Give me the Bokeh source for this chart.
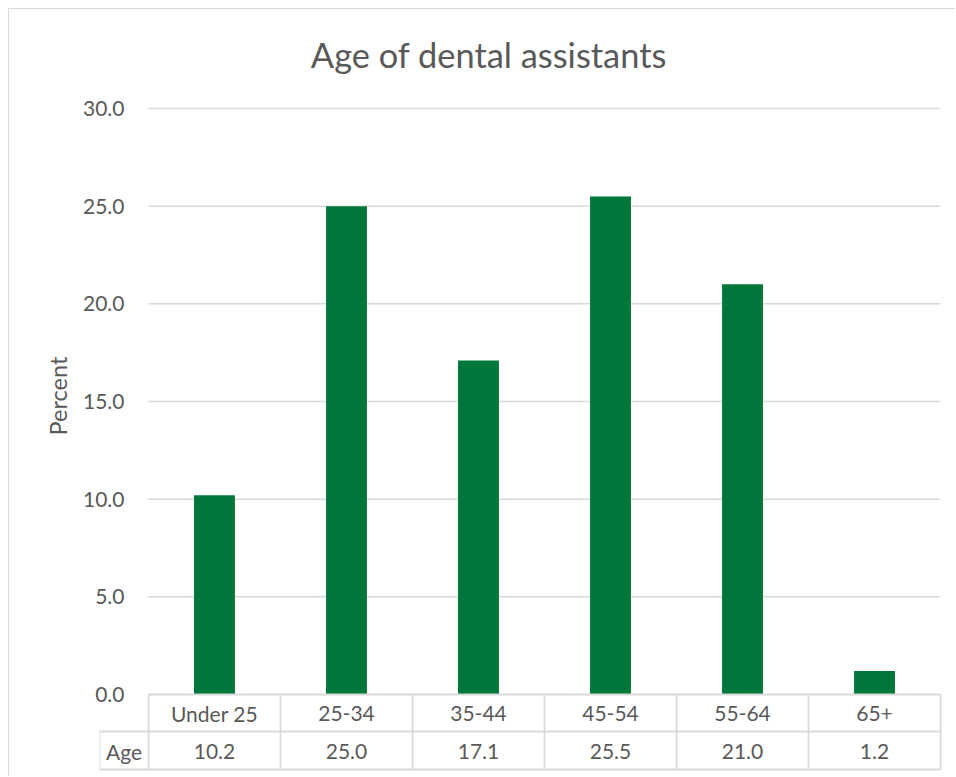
from bokeh.plotting import figure
from bokeh.models import Range1d, FixedTicker, PrintfTickFormatter
from bokeh.core.properties import value
from bokeh.embed import file_html
from bokeh.resources import INLINE
import numpy as np

# ---- data ----
title_text = "Age of dental assistants"
y_label = "Percent"
series_name = "Age"
categories = ["Under 25", "25-34", "35-44", "45-54", "55-64", "65+"]
percents = [10.2, 25.0, 17.1, 25.5, 21.0, 1.2]
y_ticks = [0, 5, 10, 15, 20, 25, 30]

# ---- style ----
GREEN = "#00773A"
TXT = "#595959"
LINE = "#D9D9D9"
FONT = "Lato"

n = len(categories)
row_split = -1.894   # boundary between the two table rows (data units)
tbl_bottom = -3.84   # bottom of table
key_left = -0.371    # left edge of the legend-key cell

p = figure(width=947, height=768,
           x_range=Range1d(key_left, n + 0.015),
           y_range=Range1d(-3.942, 34.506),
           output_backend="svg", toolbar_location=None,
           x_axis_location=None,
           min_border_left=90, min_border_right=14,
           min_border_top=11, min_border_bottom=6)
p.styles = {"margin-left": "8px", "margin-top": "8px",
            "border-left": "1px solid #D9D9D9", "border-top": "1px solid #D9D9D9"}
p.outline_line_color = None
p.grid.visible = False
p.background_fill_color = "white"
p.border_fill_color = "white"

# y axis
ax = p.yaxis[0]
ax.ticker = FixedTicker(ticks=y_ticks)
ax.formatter = PrintfTickFormatter(format="%.1f")
ax.bounds = (y_ticks[0], y_ticks[-1])
ax.axis_line_color = None
ax.major_tick_line_color = None
ax.minor_tick_line_color = None
ax.major_label_standoff = -31
ax.major_label_text_font = FONT
ax.major_label_text_font_size = "21px"
ax.major_label_text_color = TXT
ax.axis_label = y_label
ax.axis_label_text_font = FONT
ax.axis_label_text_font_size = "23.5px"
ax.axis_label_text_font_style = "normal"
ax.axis_label_text_color = TXT
ax.axis_label_standoff = 8

# gridlines (only across the plot area)
gy = [t for t in y_ticks if t > 0]
p.segment(x0=[0] * len(gy), x1=[n] * len(gy), y0=gy, y1=gy,
          line_color=LINE, line_width=1.5)

# bars
xc = np.arange(n) + 0.5
p.vbar(x=xc, top=percents, width=0.31, fill_color=GREEN, line_color=None)

# data table lines
hx0 = [0, key_left, key_left]
hx1 = [n, n, n]
hy = [0, row_split, tbl_bottom]
p.segment(x0=hx0, x1=hx1, y0=hy, y1=hy, line_color=LINE, line_width=1.8)
vx = list(range(n + 1)) + [key_left]
vy0 = [0] * (n + 1) + [row_split]
vy1 = [tbl_bottom] * (n + 2)
p.segment(x0=vx, x1=vx, y0=vy0, y1=vy1, line_color=LINE, line_width=1.8)

# table text
row1_y = -0.988
row2_y = -2.908
p.text(x=xc, y=[row1_y] * n, text=categories, text_align="center",
       text_baseline="middle", text_font=value(FONT),
       text_font_size="21px", text_color=TXT)
p.text(x=xc, y=[row2_y] * n, text=["%.1f" % v for v in percents],
       text_align="center", text_baseline="middle", text_font=value(FONT),
       text_font_size="21px", text_color=TXT)
p.text(x=[key_left / 2], y=[row2_y], text=[series_name],
       text_align="center", text_baseline="middle", text_font=value(FONT),
       text_font_size="21px", text_color=TXT)

# title
p.text(x=[2.579], y=[32.755], text=[title_text], text_align="center",
       text_baseline="middle", text_font=value(FONT),
       text_font_size="34.4px", text_color=TXT)

open("out.html", "w").write(file_html(p, INLINE))
